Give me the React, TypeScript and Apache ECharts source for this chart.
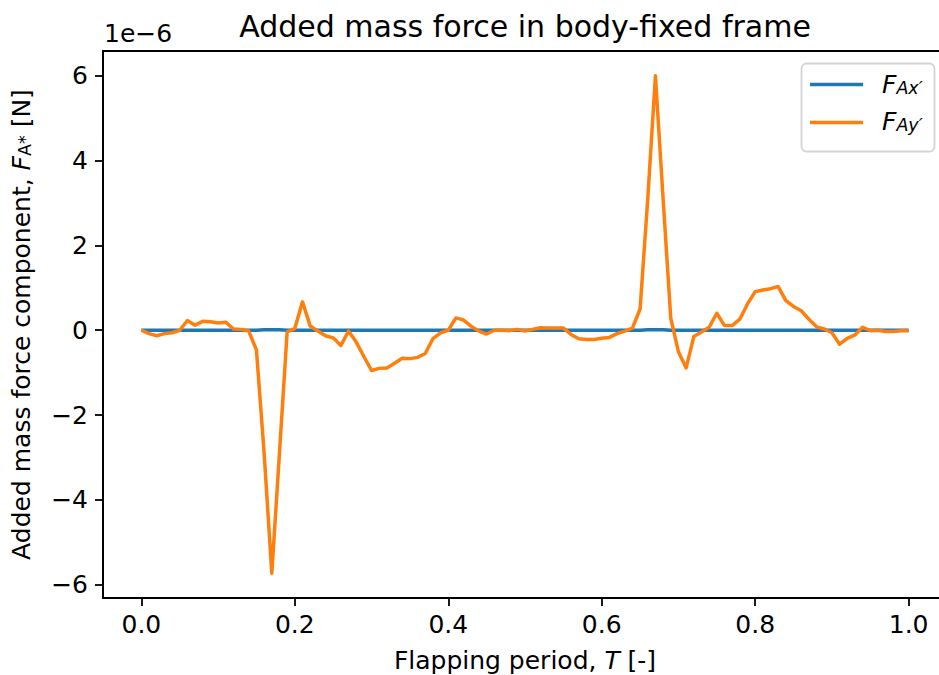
import React, { useEffect, useRef } from "react";
import * as echarts from "echarts";

// Flapping period T [-]
const period: number[] = [
  0.0, 0.01, 0.02, 0.03, 0.04, 0.05, 0.06, 0.07, 0.08, 0.09,
  0.1, 0.11, 0.12, 0.13, 0.14, 0.15, 0.16, 0.17, 0.18, 0.19,
  0.2, 0.21, 0.22, 0.23, 0.24, 0.25, 0.26, 0.27, 0.28, 0.29,
  0.3, 0.31, 0.32, 0.33, 0.34, 0.35, 0.36, 0.37, 0.38, 0.39,
  0.4, 0.41, 0.42, 0.43, 0.44, 0.45, 0.46, 0.47, 0.48, 0.49,
  0.5, 0.51, 0.52, 0.53, 0.54, 0.55, 0.56, 0.57, 0.58, 0.59,
  0.6, 0.61, 0.62, 0.63, 0.64, 0.65, 0.66, 0.67, 0.68, 0.69,
  0.7, 0.71, 0.72, 0.73, 0.74, 0.75, 0.76, 0.77, 0.78, 0.79,
  0.8, 0.81, 0.82, 0.83, 0.84, 0.85, 0.86, 0.87, 0.88, 0.89,
  0.9, 0.91, 0.92, 0.93, 0.94, 0.95, 0.96, 0.97, 0.98, 0.99,
  1.0,
];

// F_Ax' in units of 1e-6 N
const forceAx: number[] = [
  0.0, 0.0, 0.0, 0.0, 0.0, 0.0, 0.0, 0.0, 0.0, 0.0,
  0.0, 0.0, 0.0, 0.0, 0.0, 0.0, 0.01, 0.01, 0.01, 0.0,
  0.0, 0.0, 0.0, 0.0, 0.0, 0.0, 0.0, 0.0, 0.0, 0.0,
  0.0, 0.0, 0.0, 0.0, 0.0, 0.0, 0.0, 0.0, 0.0, 0.0,
  0.0, 0.0, 0.0, 0.0, 0.0, 0.0, 0.0, 0.0, 0.0, 0.0,
  0.0, 0.0, 0.0, 0.0, 0.0, 0.0, 0.0, 0.0, 0.0, 0.0,
  0.0, 0.0, 0.0, 0.0, 0.0, 0.0, 0.01, 0.01, 0.01, 0.0,
  0.0, 0.0, 0.0, 0.0, 0.0, 0.0, 0.0, 0.0, 0.0, 0.0,
  0.0, 0.0, 0.0, 0.0, 0.0, 0.0, 0.0, 0.0, 0.0, 0.0,
  0.0, 0.0, 0.0, 0.0, 0.0, 0.0, 0.0, 0.0, 0.0, 0.0,
  0.0,
];

// F_Ay' in units of 1e-6 N
const forceAy: number[] = [
  0.0, -0.08, -0.13, -0.08, -0.06, 0.0, 0.23, 0.12, 0.21, 0.2,
  0.17, 0.19, 0.03, 0.02, -0.02, -0.47, -2.9, -5.73, -2.9, -0.04,
  0.04, 0.67, 0.1, -0.02, -0.13, -0.18, -0.36, -0.02, -0.28, -0.62,
  -0.95, -0.9, -0.89, -0.78, -0.66, -0.67, -0.64, -0.55, -0.2, -0.06,
  0.0, 0.29, 0.24, 0.09, -0.02, -0.09, 0.0, 0.0, -0.01, 0.02,
  -0.02, 0.02, 0.06, 0.05, 0.05, 0.05, -0.1, -0.2, -0.22, -0.22,
  -0.19, -0.17, -0.08, -0.02, 0.05, 0.5, 3.1, 6.0, 3.1, 0.28,
  -0.51, -0.89, -0.15, -0.04, 0.07, 0.4, 0.11, 0.11, 0.26, 0.62,
  0.91, 0.95, 0.98, 1.03, 0.7, 0.56, 0.46, 0.26, 0.08, 0.03,
  -0.06, -0.33, -0.19, -0.11, 0.07, -0.01, 0.0, -0.03, -0.03, -0.01,
  -0.01,
];

const xTicks: number[] = [0, 0.2, 0.4, 0.6, 0.8, 1.0];
const yTicks: number[] = [-6, -4, -2, 0, 2, 4, 6];

const FONT = "DejaVu Sans";
const BLUE = "#1f77b4";
const ORANGE = "#ff7f0e";
const FS = 25;
const SUB = 17.5;

export default function App() {
  const ref = useRef<HTMLDivElement>(null);

  useEffect(() => {
    document.body.style.margin = "0";
    document.body.style.overflow = "hidden";
    const chart = echarts.init(ref.current!, null, { renderer: "svg" });

    const yMin = -6.3165;
    const yMax = 6.5865;

    const legendRich = {
      i: { fontFamily: FONT, fontSize: FS, fontStyle: "italic", fill: "#000" },
      s: { fontFamily: FONT, fontSize: SUB, fontStyle: "italic", fill: "#000", verticalAlign: "bottom" },
    };

    const option: any = {
      animation: false,
      backgroundColor: "#ffffff",
      textStyle: { fontFamily: FONT },
      grid: {
        left: 103,
        right: -8,
        top: 51,
        bottom: 77,
        containLabel: false,
        outerBoundsMode: "none",
        show: true,
        borderColor: "#000",
        borderWidth: 1.8,
        backgroundColor: "transparent",
      },
      xAxis: {
        type: "value",
        min: -0.05,
        max: 1.05,
        splitLine: { show: false },
        axisLine: { show: true, onZero: false, lineStyle: { color: "#000", width: 1.8 } },
        axisTick: {
          show: true,
          length: 8,
          inside: false,
          customValues: xTicks,
          lineStyle: { color: "#000", width: 1.8 },
        },
        axisLabel: {
          customValues: xTicks,
          formatter: (v: number) => v.toFixed(1),
          color: "#000",
          fontFamily: FONT,
          fontSize: FS,
          margin: 14,
        },
        name: "{n|Flapping period, }{i|T}{n| [-]}",
        nameLocation: "middle",
        nameGap: 50,
        nameTextStyle: {
          rich: {
            n: { fontFamily: FONT, fontSize: FS, color: "#000" },
            i: { fontFamily: FONT, fontSize: FS, fontStyle: "italic", color: "#000" },
          },
        },
      },
      yAxis: {
        type: "value",
        min: yMin,
        max: yMax,
        splitLine: { show: false },
        axisLine: { show: true, onZero: false, lineStyle: { color: "#000", width: 1.8 } },
        axisTick: {
          show: true,
          length: 8,
          customValues: yTicks,
          lineStyle: { color: "#000", width: 1.8 },
        },
        axisLabel: {
          customValues: yTicks,
          formatter: (v: number) => (v < 0 ? "\u2212" + Math.abs(v) : String(v)),
          color: "#000",
          fontFamily: FONT,
          fontSize: FS,
          margin: 15,
        },
        name: "{n|Added mass force component, }{i|F}{s|A*}{n| [N]}",
        nameLocation: "middle",
        nameGap: 69,
        nameRotate: 90,
        nameTextStyle: {
          rich: {
            n: { fontFamily: FONT, fontSize: FS, color: "#000" },
            i: { fontFamily: FONT, fontSize: FS, fontStyle: "italic", color: "#000" },
            s: { fontFamily: FONT, fontSize: SUB, color: "#000", verticalAlign: "bottom" },
          },
        },
      },
      series: [
        {
          name: "F_Ax'",
          type: "line",
          data: period.map((t, i) => [t, forceAx[i]]),
          showSymbol: false,
          symbol: "none",
          lineStyle: { color: BLUE, width: 3.5 },
          itemStyle: { color: BLUE },
          z: 2,
        },
        {
          name: "F_Ay'",
          type: "line",
          data: period.map((t, i) => [t, forceAy[i]]),
          showSymbol: false,
          symbol: "none",
          lineStyle: { color: ORANGE, width: 3.5, join: "round" },
          itemStyle: { color: ORANGE },
          z: 3,
        },
      ],
      graphic: [
        {
          type: "text",
          x: 525,
          y: 26,
          style: {
            text: "Added mass force in body-fixed frame",
            font: `30px "${FONT}"`,
            fill: "#000",
            align: "center",
            verticalAlign: "middle",
          },
        },
        {
          type: "text",
          x: 104,
          y: 33,
          style: {
            text: "1e\u22126",
            font: `${FS}px "${FONT}"`,
            fill: "#000",
            align: "left",
            verticalAlign: "middle",
          },
        },
        {
          type: "rect",
          shape: { x: 801.5, y: 63.5, width: 133, height: 88, r: 5 },
          style: { fill: "rgba(255,255,255,0.8)", stroke: "#d4d4d4", lineWidth: 1.8 },
          z: 10,
        },
        {
          type: "line",
          shape: { x1: 810, y1: 84.5, x2: 863, y2: 84.5 },
          style: { stroke: BLUE, lineWidth: 3.5 },
          z: 11,
        },
        {
          type: "line",
          shape: { x1: 810, y1: 122.5, x2: 863, y2: 122.5 },
          style: { stroke: ORANGE, lineWidth: 3.5 },
          z: 11,
        },
        {
          type: "text",
          x: 882,
          y: 84,
          style: { text: "{i|F}{s|Ax\u2032}", verticalAlign: "middle", rich: legendRich },
          z: 11,
        },
        {
          type: "text",
          x: 882,
          y: 121,
          style: { text: "{i|F}{s|Ay\u2032}", verticalAlign: "middle", rich: legendRich },
          z: 11,
        },
      ],
    };

    chart.setOption(option);
    return () => chart.dispose();
  }, []);

  return <div ref={ref} style={{ width: 939, height: 675, position: "absolute", left: 0, top: 0 }} />;
}
